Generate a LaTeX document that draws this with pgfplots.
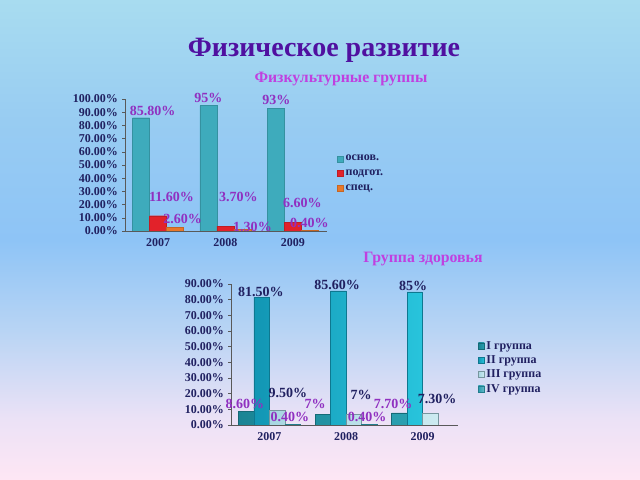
\documentclass[border=0pt]{standalone}
\usepackage{fontspec}
\setmainfont{Liberation Serif}
\usepackage{pgfplots}
\usepackage{pgfplotstable}
\pgfplotsset{compat=1.18}

\definecolor{bgtop}{HTML}{A8DCF0}
\definecolor{bgmidtop}{HTML}{98CCF2}
\definecolor{bgmid}{HTML}{8EC4F6}
\definecolor{bglow}{HTML}{B8D4F4}
\definecolor{bglower}{HTML}{ECE2F6}
\definecolor{bgbot}{HTML}{FEE6F4}
\definecolor{titlecol}{HTML}{5010A0}
\definecolor{subcol}{HTML}{C040E0}
\definecolor{labcol}{HTML}{9030C0}
\definecolor{navy}{HTML}{202060}
\definecolor{osn}{HTML}{3EABBC}
\definecolor{podg}{HTML}{E2222A}
\definecolor{spec}{HTML}{E8782A}
\definecolor{gI}{HTML}{1A8494}
\definecolor{gIlt}{HTML}{2AA0B0}
\definecolor{gII}{HTML}{1296B4}
\definecolor{gIIlt}{HTML}{28C4DC}
\definecolor{gIII}{HTML}{A8D6E2}
\definecolor{gIIIlt}{HTML}{CCEAF0}
\definecolor{gIV}{HTML}{2A9CB0}

\pgfdeclareverticalshading{slidebg}{100bp}{%
  color(0bp)=(bgbot); color(25bp)=(bgbot); color(31.25bp)=(bglower);
  color(40.6bp)=(bglow); color(50bp)=(bgmid); color(62.5bp)=(bgmidtop);
  color(75bp)=(bgtop); color(100bp)=(bgtop)}

% chart 1: physical education groups
\pgfplotstableread{
x y lab dx dy
0 85.8 85.80 11.5 6.7
1 95 95 0 7.6
2 93 93 0.5 8.2
}\fizosn
\pgfplotstableread{
x y lab dx dy
0 11.6 11.60 13.5 18.7
1 3.7 3.70 13 29.1
2 6.6 6.60 9.5 19.3
}\fizpodg
\pgfplotstableread{
x y lab dx dy
0 2.6 2.60 7.5 8.6
1 1.3 1.30 10 2.3
2 0.4 0.40 -0.5 7.5
}\fizspec

% chart 2: health groups
\pgfplotstableread{
x y lab dx dy
0 8.6 8.60 -1.25 7.5
1 7 7 -7.75 10
2 7.7 7.70 -6.25 8.9
}\zdI
\pgfplotstableread{
x y lab dx dy
0 81.5 81.50 -0.75 5.3
1 85.6 85.60 -1.25 5.9
2 85 85 -1.75 5.8
}\zdII
\pgfplotstableread{
x y lab dx dy
0 9.5 9.50 10.75 17.1
1 7 7 7.25 19
2 7.3 7.30 6.75 14.6
}\zdIII
\pgfplotstableread{
x y lab dx dy
0 0.4 0.40 -2.75 7.4
1 0.4 0.40 -2.25 7.4
}\zdIV

\pgfplotsset{
  slide axis/.style={
    scale only axis,
    anchor=south west,
    ybar=0pt,
    ymin=0,
    axis x line=bottom,
    axis y line=left,
    axis line style={-, draw=gray!70!black, line width=0.6bp},
    xtick={0,1,2},
    xticklabels={2007,2008,2009},
    x tick style={draw=none},
    y tick style={draw=gray!70!black, line width=0.5bp},
    tick align=outside,
    major tick length=3bp,
    tick label style={font=\fontsize{12bp}{14bp}\selectfont\bfseries, text=navy},
    /pgf/number format/assume math mode=true,
    yticklabel={\pgfmathprintnumber[fixed,fixed zerofill,precision=2]{\tick}\%},
    xticklabel style={yshift=-1bp},
    yticklabel style={xshift=-0.5bp},
    legend cell align=left,
    legend image code/.code={\fill[##1] (0bp,-3bp) rectangle (6bp,3bp);},
  },
  labs/.style={
    visualization depends on={\thisrow{dx} \as \labdx},
    visualization depends on={\thisrow{dy} \as \labdy},
    point meta=explicit symbolic,
    nodes near coords={\pgfplotspointmeta\%},
    nodes near coords style={anchor=center, inner sep=0pt,
      font=\fontsize{14bp}{16bp}\selectfont\bfseries, text=#1,
      xshift={\labdx*1bp}, yshift={\labdy*1bp}},
  },
}

\begin{document}
\begin{tikzpicture}[x=1bp,y=1bp]
  \shade[shading=slidebg] (0,0) rectangle (640,480);

  \node[font=\fontsize{28bp}{31bp}\selectfont\bfseries, text=titlecol] at (324,430) {Физическое развитие};
  \node[font=\fontsize{15.8bp}{18bp}\selectfont\bfseries, text=subcol] at (341,401) {Физкультурные группы};
  \node[font=\fontsize{15.8bp}{18bp}\selectfont\bfseries, text=subcol] at (423,221) {Группа здоровья};

  \begin{axis}[slide axis,
      at={(125bp,249bp)},
      width=202bp, height=132bp,
      bar width=17bp,
      xmin=-0.489, xmax=2.504,
      ymax=100,
      ytick={0,10,...,100},
      legend style={at={(1.05,0.59)}, anchor=north west, draw=none, fill=none,
        font=\fontsize{12bp}{14bp}\selectfont\bfseries, text=navy,
        row sep=3.5bp, inner sep=0pt},
    ]
    \addplot[fill=osn, draw=osn!85!black, line width=0.3bp, labs=labcol]
      table[x=x, y=y, meta=lab] {\fizosn};
    \addlegendentry{основ.}
    \addplot[fill=podg, draw=podg!85!black, line width=0.3bp, labs=labcol]
      table[x=x, y=y, meta=lab] {\fizpodg};
    \addlegendentry{подгот.}
    \addplot[fill=spec, draw=spec!85!black, line width=0.3bp, labs=labcol]
      table[x=x, y=y, meta=lab] {\fizspec};
    \addlegendentry{спец.}
  \end{axis}

  \begin{axis}[slide axis,
      at={(231bp,55bp)},
      width=227bp, height=141bp,
      bar width=15.5bp,
      xmin=-0.503, xmax=2.464,
      ymax=90,
      ytick={0,10,...,90},
      legend style={at={(1.088,0.61)}, anchor=north west, draw=none, fill=none,
        font=\fontsize{12bp}{14bp}\selectfont\bfseries, text=navy,
        row sep=1bp, inner sep=0pt},
    ]
    \addplot[left color=gI, right color=gIlt, draw=gI!80!black, line width=0.3bp, labs=labcol]
      table[x=x, y=y, meta=lab] {\zdI};
    \addlegendentry{I группа}
    \addplot[left color=gII, right color=gIIlt, draw=gII!80!black, line width=0.3bp, labs=navy]
      table[x=x, y=y, meta=lab] {\zdII};
    \addlegendentry{II группа}
    \addplot[left color=gIII, right color=gIIIlt, draw=gIII!70!black, line width=0.3bp, labs=navy]
      table[x=x, y=y, meta=lab] {\zdIII};
    \addlegendentry{III группа}
    \addplot[left color=gIV, right color=gIV!70!white, draw=gIV!80!black, line width=0.3bp, labs=labcol]
      table[x=x, y=y, meta=lab] {\zdIV};
    \addlegendentry{IV группа}
  \end{axis}
\end{tikzpicture}
\end{document}
